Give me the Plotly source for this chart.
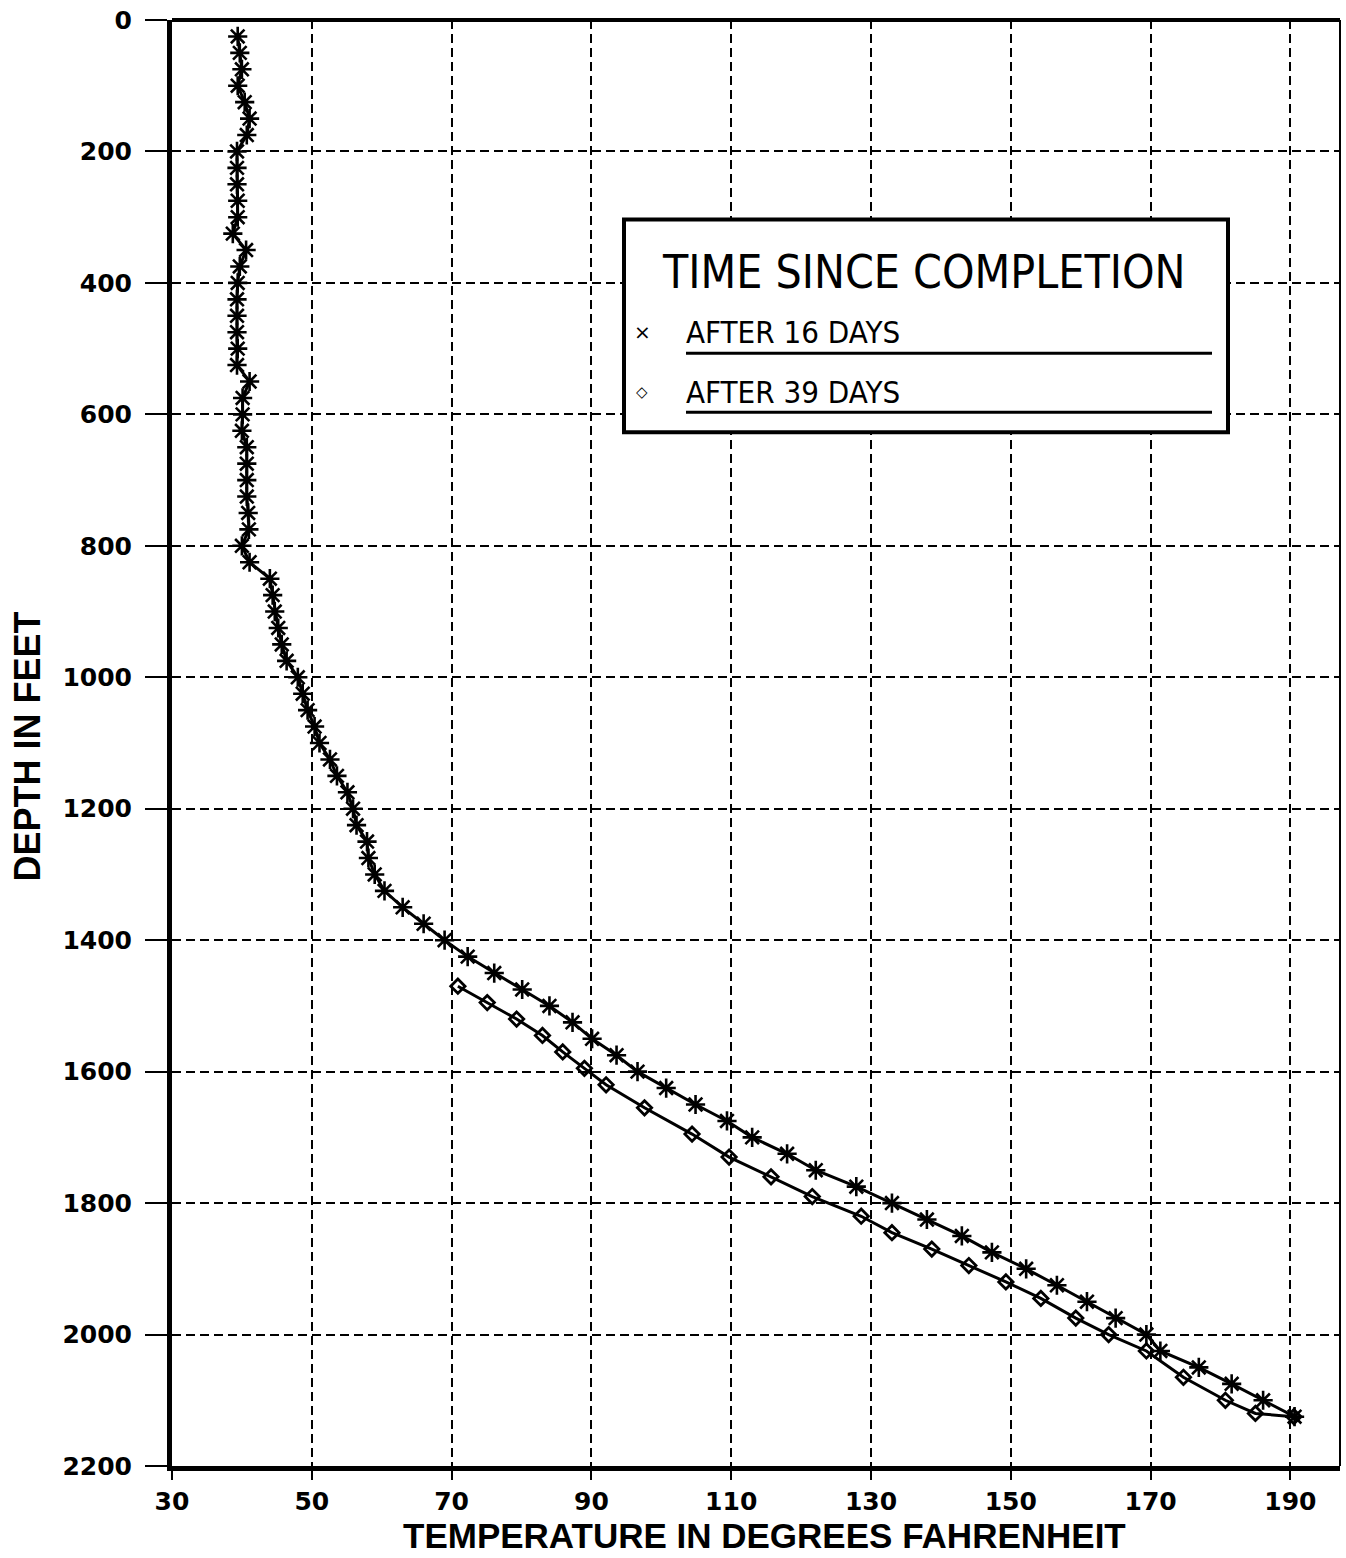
import plotly.graph_objects as go

# ---- data ----
depth_16 = [25, 50, 75, 100, 125, 150, 175, 200, 225, 250, 275, 300, 325, 350, 375, 400,
            425, 450, 475, 500, 525, 550, 575, 600, 625, 650, 675, 700, 725, 750, 775, 800,
            825, 850, 875, 900, 925, 950, 975, 1000, 1025, 1050, 1075, 1100, 1125, 1150,
            1175, 1200, 1225, 1250, 1275, 1300, 1325, 1350, 1375, 1400, 1425, 1450, 1475,
            1500, 1525, 1550, 1575, 1600, 1625, 1650, 1675, 1700, 1725, 1750, 1775, 1800,
            1825, 1850, 1875, 1900, 1925, 1950, 1975, 2000, 2025, 2050, 2075, 2100, 2125]
temp_16 = [39.4, 39.7, 40.0, 39.4, 40.4, 41.1, 40.7, 39.3, 39.3, 39.3, 39.4, 39.4, 38.7, 40.6,
           39.7, 39.4, 39.3, 39.3, 39.3, 39.4, 39.3, 41.1, 40.1, 40.1, 40.0, 40.7, 40.7, 40.7,
           40.7, 40.9, 41.0, 40.0, 41.1, 44.0, 44.4, 44.7, 45.2, 45.7, 46.4, 48.0, 48.7, 49.4,
           50.4, 51.1, 52.6, 53.6, 55.1, 55.9, 56.4, 57.9, 58.1, 59.0, 60.4, 63.0, 66.0, 69.0,
           72.3, 76.1, 80.1, 84.0, 87.3, 90.1, 93.6, 96.6, 100.7, 104.9, 109.4, 113.0, 118.0,
           122.1, 127.9, 133.0, 138.0, 143.0, 147.3, 152.2, 156.6, 160.9, 165.0, 169.4, 171.4,
           176.9, 181.6, 186.1, 190.6]

depth_39 = [1470, 1495, 1520, 1545, 1570, 1595, 1620, 1655, 1695, 1730, 1760, 1790, 1820,
            1845, 1870, 1895, 1920, 1945, 1975, 2000, 2025, 2065, 2100, 2120, 2125]
temp_39 = [70.9, 75.1, 79.3, 83.0, 85.9, 89.0, 92.1, 97.6, 104.4, 109.7, 115.7, 121.6, 128.6,
           133.0, 138.7, 144.0, 149.3, 154.3, 159.3, 164.0, 169.4, 174.7, 180.7, 185.0, 190.5]

x_ticks = [30, 50, 70, 90, 110, 130, 150, 170, 190]
y_ticks = [0, 200, 400, 600, 800, 1000, 1200, 1400, 1600, 1800, 2000, 2200]

legend_title = "TIME SINCE COMPLETION"
series_names = ["AFTER 16 DAYS", "AFTER 39 DAYS"]

# page geometry (body margin removed below, so figure pixels == page pixels)
PL, PR, PT, PB = 172, 1340, 17, 1466   # plot area in page pixels
PW, PH = PR - PL, PB - PT
FIG_W, FIG_H = 1346, 1558


def px(xp):
    return (xp - PL) / PW


def py(yp):
    return 1 - (yp - PT) / PH


fig = go.Figure()
fig.add_trace(go.Scatter(
    x=temp_16, y=depth_16, mode="lines+markers", name=series_names[0],
    line=dict(color="black", width=3),
    marker=dict(symbol="asterisk-open", size=16, color="black",
                line=dict(color="black", width=2.6)),
    showlegend=False))
fig.add_trace(go.Scatter(
    x=temp_39, y=depth_39, mode="lines+markers", name=series_names[1],
    line=dict(color="black", width=3),
    marker=dict(symbol="diamond-open", size=11, color="black",
                line=dict(color="black", width=2.8)),
    showlegend=False))

tick_font = dict(family="DejaVu Sans", size=25, color="black", weight="bold")
fig.update_xaxes(
    range=[30, 197.1], tickvals=x_ticks, ticktext=[str(v) for v in x_ticks],
    ticks="outside", ticklen=9, tickwidth=2, tickcolor="black",
    tickfont=tick_font, showline=True, linewidth=5, linecolor="black",
    showgrid=True, gridcolor="black", gridwidth=2, griddash="9px,5px",
    zeroline=False)
fig.update_yaxes(
    range=[2200, 0], tickvals=y_ticks, ticktext=[str(v) for v in y_ticks],
    ticks="outside", ticklen=22, tickwidth=2, tickcolor="black",
    ticklabelstandoff=8, ticklabeloverflow="allow",
    tickfont=tick_font, showline=True, linewidth=5, linecolor="black",
    showgrid=True, gridcolor="black", gridwidth=2, griddash="9px,5px",
    zeroline=False)

shapes = [
    # top and right frame
    dict(type="line", xref="paper", yref="paper", x0=0, x1=1, y0=1, y1=1,
         line=dict(color="black", width=4)),
    dict(type="line", xref="paper", yref="paper", x0=1, x1=1, y0=0, y1=1,
         line=dict(color="black", width=2)),
    # legend box
    dict(type="rect", xref="paper", yref="paper", x0=px(624), x1=px(1228),
         y0=py(430), y1=py(217),
         line=dict(color="black", width=4), fillcolor="white", layer="above"),
    # underlines
    dict(type="line", xref="paper", yref="paper", x0=px(686), x1=px(1212),
         y0=py(351), y1=py(351), line=dict(color="black", width=3)),
    dict(type="line", xref="paper", yref="paper", x0=px(686), x1=px(1212),
         y0=py(410), y1=py(410), line=dict(color="black", width=3)),
]

narrow = "DejaVu Sans Condensed, Liberation Sans Narrow, Liberation Sans"
annotations = [
    dict(text=legend_title, xref="paper", yref="paper", x=px(923), y=py(270),
         showarrow=False, xanchor="center", yanchor="middle",
         font=dict(family=narrow, size=46, color="black")),
    dict(text=series_names[0], xref="paper", yref="paper", x=px(684), y=py(330),
         showarrow=False, xanchor="left", yanchor="middle",
         font=dict(family=narrow, size=31, color="black")),
    dict(text=series_names[1], xref="paper", yref="paper", x=px(684), y=py(390),
         showarrow=False, xanchor="left", yanchor="middle",
         font=dict(family=narrow, size=31, color="black")),
    dict(text="×", xref="paper", yref="paper", x=px(642), y=py(330),
         showarrow=False, xanchor="center", yanchor="middle",
         font=dict(family="DejaVu Sans", size=20, color="black")),
    dict(text="◇", xref="paper", yref="paper", x=px(642), y=py(390),
         showarrow=False, xanchor="center", yanchor="middle",
         font=dict(family="DejaVu Sans", size=15, color="black")),
    # axis titles
    dict(text="TEMPERATURE IN DEGREES FAHRENHEIT", xref="paper", yref="paper",
         x=px(764), y=py(1536), showarrow=False, xanchor="center", yanchor="middle",
         font=dict(family="Liberation Sans", size=35, color="black", weight="bold")),
    dict(text="DEPTH IN FEET", xref="paper", yref="paper", textangle=-90,
         x=px(27), y=py(745), showarrow=False, xanchor="center", yanchor="middle",
         font=dict(family="Liberation Sans", size=36, color="black", weight="bold")),
]

fig.update_layout(
    width=FIG_W, height=FIG_H,
    margin=dict(l=PL, r=FIG_W - PR, t=PT, b=FIG_H - PB),
    paper_bgcolor="white", plot_bgcolor="white",
    shapes=shapes, annotations=annotations,
    showlegend=False,
)

fig.write_html(
    "out.html",
    config={"displayModeBar": False},
    post_script="document.body.style.margin='0';document.body.style.overflow='hidden';",
)
